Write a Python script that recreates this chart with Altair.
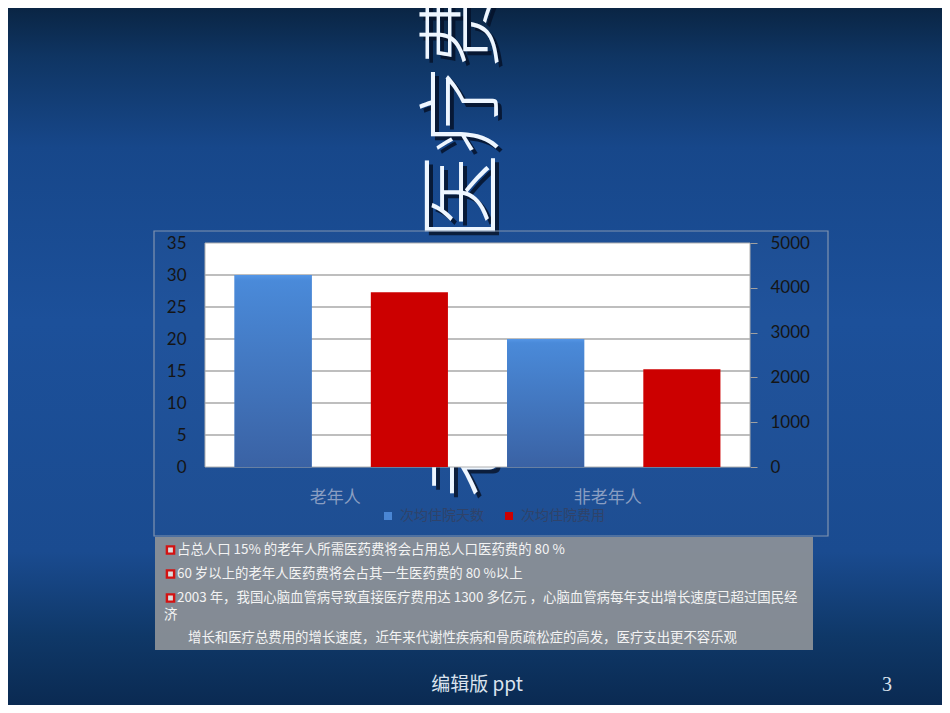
import altair as alt
import pandas as pd

# ---- data ----
groups = ["老年人", "非老年人"]
series_names = ["次均住院天数", "次均住院费用"]
days = [30, 20]          # left axis
costs = [3900, 2180]     # right axis
day_ticks = [0, 5, 10, 15, 20, 25, 30, 35]
cost_ticks = [0, 1000, 2000, 3000, 4000, 5000]

title_text = "老年人医疗费用"
notes = [
    "占总人口 15% 的老年人所需医药费将会占用总人口医药费的 80 %",
    "60 岁以上的老年人医药费将会占其一生医药费的 80 %以上",
    "2003 年，我国心脑血管病导致直接医疗费用达 1300 多亿元 ，心脑血管病每年支出增长速度已超过国民经",
    "济",
    "增长和医疗总费用的增长速度，近年来代谢性疾病和骨质疏松症的高发，医疗支出更不容乐观",
]
footer_text = "编辑版 ppt"
page_no = "3"

# ---- layout (page pixels -> plot coordinates) ----
W, H = 545, 224
OX, OY = 205, 243  # page position of the plot origin


def px(x):
    return x - OX


def py(y):
    return y - OY


CJK = "Noto Sans CJK SC"
one = alt.Data(values=[{}])

day_df = pd.DataFrame({"group": groups, "series": series_names[0], "value": days})
cost_df = pd.DataFrame({"group": groups, "series": series_names[1], "value": costs})
grid_df = pd.DataFrame({"v": day_ticks[1:-1]})

bg_fill = alt.Gradient(
    gradient="linear", x1=0, x2=0, y1=0, y2=1,
    stops=[
        alt.GradientStop(offset=0, color="#0a2544"),
        alt.GradientStop(offset=0.07, color="#0f3563"),
        alt.GradientStop(offset=0.2, color="#17478a"),
        alt.GradientStop(offset=0.45, color="#1c509a"),
        alt.GradientStop(offset=0.78, color="#1a4b90"),
        alt.GradientStop(offset=0.9, color="#0f3868"),
        alt.GradientStop(offset=1, color="#0a2a52"),
    ],
)
blue_fill = alt.Gradient(
    gradient="linear", x1=0, x2=0, y1=0, y2=1,
    stops=[
        alt.GradientStop(offset=0, color="#5596e6"),
        alt.GradientStop(offset=0.03, color="#4a8ad9"),
        alt.GradientStop(offset=1, color="#3a62a4"),
    ],
)

background = alt.Chart(one).mark_rect(fill=bg_fill).encode(
    x=alt.value(px(8)), x2=alt.value(px(942)),
    y=alt.value(py(8)), y2=alt.value(py(705)),
)

title_shadow = alt.Chart(one).mark_text(
    text=title_text, angle=270, align="left", baseline="middle",
    font=CJK, fontSize=86, fontWeight=300, fill="#05122a", opacity=0.85,
).encode(x=alt.value(px(470)), y=alt.value(py(502)))

title = alt.Chart(one).mark_text(
    text=title_text, angle=270, align="left", baseline="middle",
    font=CJK, fontSize=86, fontWeight=300, fill="#eef6ff",
).encode(x=alt.value(px(466)), y=alt.value(py(498)))

frame = alt.Chart(one).mark_rect(
    fill="#ffffff", fillOpacity=0.02, stroke="#8093b0", strokeWidth=1.2
).encode(
    x=alt.value(px(154)), x2=alt.value(px(828)),
    y=alt.value(py(231)), y2=alt.value(py(536)),
)

plot_bg = alt.Chart(one).mark_rect(fill="white", stroke="#b0b0b0", strokeWidth=1).encode(
    x=alt.value(0), x2=alt.value(W), y=alt.value(0), y2=alt.value(H)
)

grid = alt.Chart(grid_df).mark_rule(color="#a9a9a9", strokeWidth=1.3).encode(
    y=alt.Y("v:Q", scale=alt.Scale(domain=[0, 35]), axis=None),
    x=alt.value(0), x2=alt.value(W),
)

x_axis = alt.Axis(
    orient="bottom", title=None, domain=False, ticks=False, labelAngle=0,
    labelFont=CJK, labelFontSize=17, labelColor="#8a9ec2", labelPadding=22,
    labelOffset=-6, zindex=1,
)
x_enc = alt.X("group:N", sort=groups, scale=alt.Scale(paddingInner=0, paddingOuter=0), axis=x_axis)
xo_enc = alt.XOffset(
    "series:N", sort=series_names,
    scale=alt.Scale(domain=series_names, paddingInner=0.434, paddingOuter=0.217),
)
legend = alt.Legend(
    title=None, orient="none", legendX=176, legendY=266, direction="horizontal",
    symbolType="square", symbolSize=64, symbolStrokeWidth=0,
    labelFont=CJK, labelFontSize=14, labelColor="#2f436a", labelOffset=5,
    columnPadding=18, zindex=1,
)
color_enc = alt.Color(
    "series:N", sort=series_names,
    scale=alt.Scale(domain=series_names, range=["#4a86d4", "#cc0000"]),
    legend=legend,
)

left_axis = alt.Axis(
    orient="left", values=day_ticks, title=None, domain=False, ticks=False, grid=False,
    labelFont="Lato", labelFontSize=17, labelColor="#151515", labelPadding=19, zindex=1,
)
right_axis = alt.Axis(
    orient="right", values=cost_ticks, format="d", title=None, domain=False, ticks=True,
    tickSize=7, tickColor="#a0a0a0", grid=False,
    labelFont="Lato", labelFontSize=17, labelColor="#151515", labelPadding=13, zindex=1,
)

blue_base = alt.Chart(day_df).mark_bar().encode(
    x=x_enc, xOffset=xo_enc,
    y=alt.Y("value:Q", scale=alt.Scale(domain=[0, 35]), axis=left_axis),
    color=color_enc,
)
blue_shade = alt.Chart(day_df).mark_bar(fill=blue_fill).encode(
    x=x_enc, xOffset=xo_enc,
    y=alt.Y("value:Q", scale=alt.Scale(domain=[0, 35]), axis=None),
)
red_bars = alt.Chart(cost_df).mark_bar().encode(
    x=x_enc, xOffset=xo_enc,
    y=alt.Y("value:Q", scale=alt.Scale(domain=[0, 5000]), axis=right_axis),
    color=color_enc,
)

note_box = alt.Chart(one).mark_rect(fill="#8b9097", fillOpacity=0.94).encode(
    x=alt.value(px(155)), x2=alt.value(px(813)),
    y=alt.value(py(537)), y2=alt.value(py(650)),
)

note_rows = [(177, 550, True), (177, 574, True), (177, 598, True), (164, 615, False), (188, 638, False)]
note_layers = []
for text, (nx, ny, has_bullet) in zip(notes, note_rows):
    if has_bullet:
        note_layers.append(
            alt.Chart(one).mark_square(
                size=52, fill="#dcdcdc", stroke="#d41212", strokeWidth=2.4, opacity=1
            ).encode(x=alt.value(px(170.5)), y=alt.value(py(ny)))
        )
    note_layers.append(
        alt.Chart(one).mark_text(
            text=text, align="left", baseline="middle",
            font=CJK, fontSize=13.4, color="#f3f3f3",
        ).encode(x=alt.value(px(nx)), y=alt.value(py(ny)))
    )

footer = alt.Chart(one).mark_text(
    text=footer_text, align="center", baseline="middle",
    font="Liberation Sans Narrow, " + CJK, fontSize=19, color="#dbe3ee",
).encode(x=alt.value(px(477)), y=alt.value(py(685)))

page = alt.Chart(one).mark_text(
    text=page_no, align="center", baseline="middle",
    font="Liberation Sans Narrow", fontSize=20, color="#dbe3ee",
).encode(x=alt.value(px(887)), y=alt.value(py(685)))

chart = alt.layer(
    background, title_shadow, title, frame, plot_bg, grid,
    blue_base, blue_shade, red_bars, note_box, *note_layers, footer, page,
).resolve_scale(y="independent").properties(
    width=W, height=H,
    autosize=alt.AutoSizeParams(type="none"),
    padding={"left": OX - 8, "top": OY - 8, "right": 934 - (OX - 8) - W, "bottom": 697 - (OY - 8) - H},
).configure_view(stroke=None)

chart.save("out.html", embed_options={"renderer": "svg", "actions": False})
